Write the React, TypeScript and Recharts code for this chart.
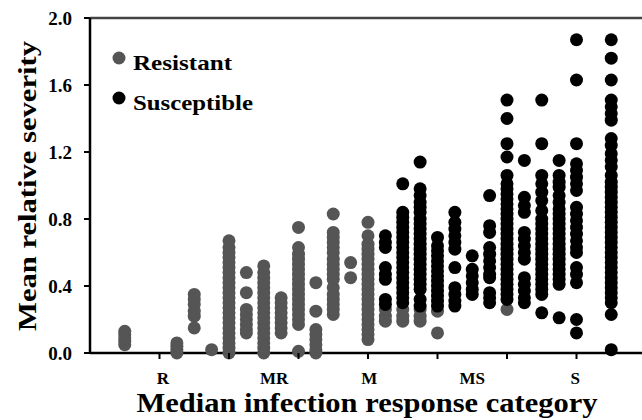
import React from 'react';
import { ScatterChart, Scatter, XAxis, YAxis, ReferenceLine } from 'recharts';

const FONT = '"Liberation Serif", "Times New Roman", serif';
const GRAY = '#555555';
const BLACK = '#000000';

// x-axis category labels and where they sit on the numeric axis
const categoryLabels = ['R', 'MR', 'M', 'MS', 'S'];
const categoryLabelPositions = [1.05, 2.65, 4.02, 5.5, 6.98];
const majorTicks = [1, 2, 3, 4, 5, 6, 7];
const yTicks = [0, 0.4, 0.8, 1.2, 1.6, 2.0];
const seriesNames = ['Resistant', 'Susceptible'];

// Resistant (gray) columns: x position and the values stacked in each column
const resistantX = [0.5, 1.25, 1.5, 1.75, 2.0, 2.25, 2.5, 2.75, 3.0, 3.25, 3.5, 3.75, 4.0, 4.25, 4.5, 4.75, 5.0, 6.0];
const resistantY = [
  [0.05, 0.07, 0.09, 0.11, 0.13],
  [0.0, 0.02, 0.04, 0.06],
  [0.15, 0.22, 0.25, 0.29, 0.32, 0.35],
  [0.02],
  [0.0, 0.03, 0.06, 0.09, 0.12, 0.15, 0.18, 0.21, 0.24, 0.27, 0.3, 0.33, 0.36, 0.39, 0.42, 0.45, 0.48, 0.51, 0.54, 0.57, 0.6, 0.63, 0.67],
  [0.12, 0.14, 0.17, 0.2, 0.23, 0.26, 0.36, 0.48],
  [0.0, 0.03, 0.06, 0.09, 0.12, 0.15, 0.18, 0.21, 0.24, 0.27, 0.3, 0.33, 0.36, 0.39, 0.42, 0.45, 0.48, 0.52],
  [0.12, 0.15, 0.18, 0.21, 0.24, 0.27, 0.3, 0.33],
  [0.01, 0.17, 0.2, 0.23, 0.26, 0.29, 0.32, 0.35, 0.38, 0.41, 0.44, 0.47, 0.5, 0.53, 0.56, 0.59, 0.63, 0.75],
  [0.0, 0.02, 0.05, 0.08, 0.11, 0.14, 0.25, 0.42],
  [0.23, 0.26, 0.29, 0.32, 0.35, 0.39, 0.44, 0.47, 0.5, 0.53, 0.56, 0.6, 0.63, 0.66, 0.69, 0.72, 0.83],
  [0.45, 0.54],
  [0.08, 0.11, 0.14, 0.17, 0.2, 0.23, 0.26, 0.29, 0.32, 0.35, 0.38, 0.41, 0.44, 0.47, 0.5, 0.53, 0.56, 0.59, 0.62, 0.65, 0.7, 0.78],
  [0.19, 0.22, 0.26],
  [0.19, 0.22, 0.26],
  [0.19, 0.22, 0.26],
  [0.12, 0.25],
  [0.26],
];

// Susceptible (black) columns
const susceptibleX = [4.25, 4.5, 4.75, 5.0, 5.25, 5.5, 5.75, 6.0, 6.25, 6.5, 6.75, 7.0, 7.5];
const susceptibleY = [
  [0.29, 0.32, 0.44, 0.47, 0.51, 0.63, 0.66, 0.7],
  [0.3, 0.33, 0.36, 0.39, 0.42, 0.45, 0.48, 0.51, 0.54, 0.57, 0.6, 0.63, 0.66, 0.69, 0.72, 0.75, 0.78, 0.81, 0.84, 1.01],
  [0.28, 0.32, 0.38, 0.41, 0.44, 0.47, 0.5, 0.53, 0.56, 0.59, 0.62, 0.65, 0.68, 0.71, 0.74, 0.77, 0.8, 0.84, 0.87, 0.9, 0.94, 0.98, 1.14],
  [0.28, 0.31, 0.34, 0.37, 0.4, 0.43, 0.46, 0.49, 0.52, 0.55, 0.58, 0.61, 0.64, 0.69],
  [0.28, 0.31, 0.35, 0.39, 0.51, 0.62, 0.66, 0.7, 0.74, 0.78, 0.84],
  [0.35, 0.38, 0.42, 0.46, 0.5, 0.58],
  [0.3, 0.33, 0.36, 0.45, 0.47, 0.51, 0.55, 0.59, 0.63, 0.72, 0.76, 0.94],
  [0.32, 0.35, 0.38, 0.41, 0.44, 0.47, 0.5, 0.53, 0.56, 0.59, 0.62, 0.65, 0.68, 0.71, 0.74, 0.77, 0.8, 0.83, 0.86, 0.89, 0.92, 0.95, 0.98, 1.01, 1.06, 1.17, 1.25, 1.4, 1.51],
  [0.3, 0.33, 0.37, 0.41, 0.45, 0.56, 0.6, 0.64, 0.68, 0.72, 0.84, 0.88, 0.93, 1.15],
  [0.24, 0.35, 0.38, 0.41, 0.44, 0.47, 0.5, 0.53, 0.56, 0.59, 0.62, 0.65, 0.68, 0.71, 0.74, 0.77, 0.8, 0.85, 0.91, 0.96, 1.01, 1.06, 1.25, 1.51],
  [0.21, 0.41, 0.44, 0.47, 0.5, 0.53, 0.56, 0.59, 0.62, 0.65, 0.68, 0.71, 0.74, 0.77, 0.8, 0.83, 0.86, 0.9, 0.94, 0.99, 1.02, 1.06, 1.15],
  [0.12, 0.2, 0.42, 0.47, 0.51, 0.6, 0.63, 0.67, 0.71, 0.75, 0.79, 0.83, 0.87, 0.97, 1.01, 1.05, 1.09, 1.13, 1.25, 1.63, 1.87],
  [0.02, 0.23, 0.3, 0.33, 0.36, 0.39, 0.42, 0.45, 0.48, 0.51, 0.54, 0.57, 0.6, 0.63, 0.66, 0.69, 0.72, 0.75, 0.78, 0.81, 0.84, 0.87, 0.9, 0.93, 0.96, 0.99, 1.02, 1.06, 1.11, 1.15, 1.19, 1.24, 1.28, 1.39, 1.43, 1.47, 1.51, 1.63, 1.76, 1.87],
];

const toPoints = (xs: number[], ys: number[][]) =>
  xs.flatMap((x, i) => ys[i].map((y) => ({ x, y })));

const resistantData = toPoints(resistantX, resistantY);
const susceptibleData = toPoints(susceptibleX, susceptibleY);

const xTickValues = [...majorTicks, ...categoryLabelPositions].sort((a, b) => a - b);

const Dot = (color: string) => (p: any) => <circle cx={p.cx} cy={p.cy} r={6.5} fill={color} />;

const XTick = (props: any) => {
  const { x, payload } = props;
  const v = payload.value;
  const isMajor = majorTicks.includes(v);
  const li = categoryLabelPositions.indexOf(v);
  return (
    <g>
      {isMajor && <line x1={x} x2={x} y1={353} y2={359} stroke={BLACK} strokeWidth={2} />}
      {li >= 0 && (
        <text x={x} y={384} textAnchor="middle" fontFamily={FONT} fontWeight="bold" fontSize={17} fill={BLACK}>
          {categoryLabels[li]}
        </text>
      )}
    </g>
  );
};

const LegendOverlay = () => (
  <svg width={200} height={80} style={{ position: 'absolute', left: 108, top: 48 }}>
    <circle cx={11} cy={10} r={6.5} fill={GRAY} />
    <text x={25} y={22} fontFamily={FONT} fontWeight="bold" fontSize={22} fill={BLACK} textLength={99} lengthAdjust="spacingAndGlyphs">
      {seriesNames[0]}
    </text>
    <circle cx={11} cy={50} r={6.5} fill={BLACK} />
    <text x={25} y={62} fontFamily={FONT} fontWeight="bold" fontSize={22} fill={BLACK} textLength={120} lengthAdjust="spacingAndGlyphs">
      {seriesNames[1]}
    </text>
  </svg>
);

export default function App() {
  return (
    <div style={{ position: 'absolute', left: 0, top: 0, width: 642, height: 420, overflow: 'hidden', background: '#fff' }}>
      <ScatterChart width={660} height={420} margin={{ top: 18, right: 14, bottom: 0, left: 0 }}>
        <XAxis
          type="number"
          dataKey="x"
          domain={[0, 8]}
          ticks={xTickValues}
          interval={0}
          tick={<XTick />}
          tickLine={false}
          axisLine={{ stroke: BLACK, strokeWidth: 2.5 }}
          height={67}
          allowDataOverflow
          label={{
            content: () => (
              <text x={367} y={412} textAnchor="middle" fontFamily={FONT} fontWeight="bold" fontSize={28} fill={BLACK} textLength={461} lengthAdjust="spacingAndGlyphs">
                Median infection response category
              </text>
            ),
          }}
        />
        <YAxis
          type="number"
          dataKey="y"
          domain={[0, 2]}
          ticks={yTicks}
          interval={0}
          width={90}
          tickFormatter={(v: number) => v.toFixed(1)}
          tick={{ fontFamily: FONT, fontWeight: 'bold', fontSize: 19, fill: BLACK }}
          tickLine={{ stroke: BLACK, strokeWidth: 2 }}
          tickSize={6}
          tickMargin={12}
          axisLine={{ stroke: BLACK, strokeWidth: 2.5 }}
          label={{
            content: () => (
              <text x={36} y={186} transform="rotate(-90 36 186)" textAnchor="middle" fontFamily={FONT} fontWeight="bold" fontSize={26} fill={BLACK} textLength={290} lengthAdjust="spacingAndGlyphs">
                Mean relative severity
              </text>
            ),
          }}
        />
        <ReferenceLine y={2} stroke="#444" strokeWidth={2.5} ifOverflow="extendDomain" />
        <Scatter name={seriesNames[0]} data={resistantData} fill={GRAY} shape={Dot(GRAY)} isAnimationActive={false} />
        <Scatter name={seriesNames[1]} data={susceptibleData} fill={BLACK} shape={Dot(BLACK)} isAnimationActive={false} />
      </ScatterChart>
      <LegendOverlay />
    </div>
  );
}
